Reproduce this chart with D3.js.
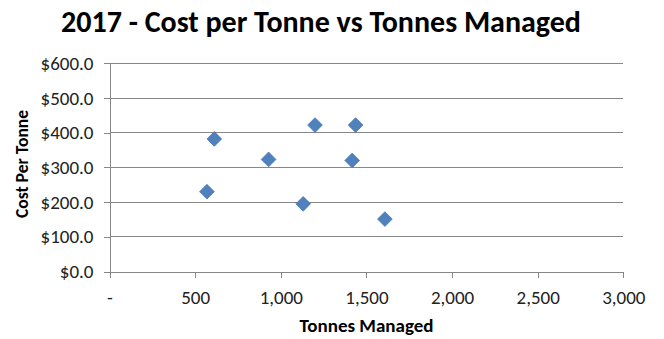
<!DOCTYPE html>
<html>
<head>
<meta charset="utf-8">
<script src="https://cdn.jsdelivr.net/npm/d3@7"></script>
<style>
  html, body { margin: 0; padding: 0; background: #fff; }
  svg { display: block; }
</style>
</head>
<body>
<div id="chart"></div>
<script>
// Tonnes managed vs cost per tonne, 2017
const tonnesManaged = [612, 1200, 1437, 929, 1417, 569, 1131, 1608];
const costPerTonne  = [382, 422, 422, 323, 320, 230, 195, 151];
const xTicks = [0, 500, 1000, 1500, 2000, 2500, 3000];
const yTicks = [0, 100, 200, 300, 400, 500, 600];

const W = 664, H = 339;
const plot = { left: 109.5, right: 623.3, top: 63.3, bottom: 271.5 };

const svg = d3.select("#chart").append("svg")
  .attr("width", W).attr("height", H);

const x = d3.scaleLinear().domain([0, 3000]).range([plot.left, plot.right]);
const y = d3.scaleLinear().domain([0, 600]).range([plot.bottom, plot.top]);

const font = "Carlito, Calibri, Lato, sans-serif";
const gridColor = "#878787";

// horizontal gridlines
svg.append("g").selectAll("line").data(yTicks.filter(d => d > 0)).join("line")
  .attr("x1", x(0)).attr("x2", x(3000))
  .attr("y1", d => y(d)).attr("y2", d => y(d))
  .attr("stroke", gridColor).attr("stroke-width", 1)
  .attr("shape-rendering", "crispEdges");

// y axis
const yAxis = svg.append("g")
  .attr("transform", `translate(${x(0)},0)`)
  .call(d3.axisLeft(y).tickValues(yTicks).tickSize(6).tickPadding(10)
    .tickFormat(d => "$" + d3.format(".1f")(d)));

// x axis
const xAxis = svg.append("g")
  .attr("transform", `translate(0,${y(0)})`)
  .call(d3.axisBottom(x).tickValues(xTicks).tickSize(6).tickPadding(13)
    .tickFormat(d => d === 0 ? "-" : d3.format(",")(d)));

[yAxis, xAxis].forEach(g => {
  g.select(".domain").attr("stroke", gridColor).attr("shape-rendering", "crispEdges");
  g.selectAll(".tick line").attr("stroke", gridColor).attr("shape-rendering", "crispEdges");
  g.selectAll(".tick text")
    .attr("fill", "#222")
    .style("font-family", font)
    .style("font-size", "19px");
});

// points
svg.append("g").selectAll("path")
  .data(tonnesManaged.map((t, i) => [t, costPerTonne[i]]))
  .join("path")
  .attr("d", d3.symbol().type(d3.symbolDiamond2).size(138))
  .attr("transform", d => `translate(${x(d[0])},${y(d[1])})`)
  .attr("fill", "#4f81bd")
  .attr("stroke", "#4a7ab3")
  .attr("stroke-width", 0.8);

// title
svg.append("text")
  .attr("x", 321).attr("y", 31.5)
  .attr("text-anchor", "middle")
  .style("font-family", font)
  .style("font-weight", "bold")
  .style("font-size", "30px")
  .attr("fill", "#000")
  .text("2017 - Cost per Tonne vs Tonnes Managed");

// axis titles
svg.append("text")
  .attr("transform", `translate(28,164) rotate(-90)`)
  .attr("text-anchor", "middle")
  .style("font-family", font)
  .style("font-weight", "bold")
  .style("font-size", "17.6px")
  .attr("fill", "#000")
  .text("Cost Per Tonne");

svg.append("text")
  .attr("x", 366.5).attr("y", 332)
  .attr("text-anchor", "middle")
  .style("font-family", font)
  .style("font-weight", "bold")
  .style("font-size", "19px")
  .attr("fill", "#000")
  .text("Tonnes Managed");
</script>
</body>
</html>
